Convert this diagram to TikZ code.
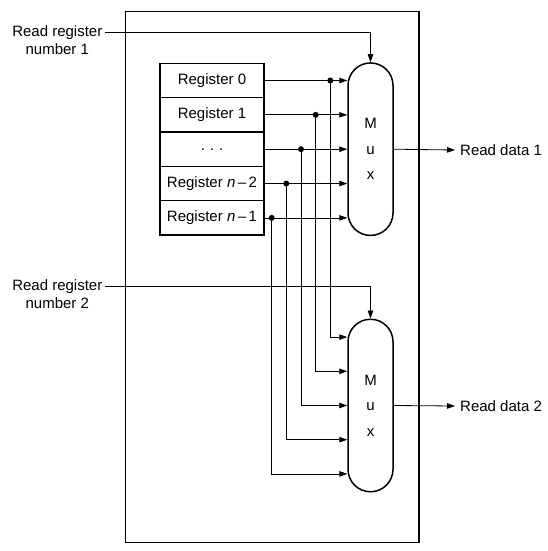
\documentclass[tikz,border=0pt]{standalone}
\usepackage{fontspec}
\setmainfont{Liberation Sans}
\usetikzlibrary{arrows.meta,calc}
\begin{document}
\begin{tikzpicture}[x=1pt,y=-1pt,
  txt/.style={font=\fontsize{15}{17}\selectfont, inner sep=2pt},
  frame/.style={draw, line width=1.5pt, minimum width=293.7pt, minimum height=531pt, inner sep=0pt},
  regbox/.style={draw, line width=1.5pt, minimum width=104pt, minimum height=34.35pt, inner sep=0pt, font=\fontsize{15}{17}\selectfont},
  muxbox/.style={draw, line width=1.5pt, minimum width=45pt, minimum height=172.5pt, inner sep=0pt, rounded corners=22.5pt, align=center, font=\fontsize{15}{25.5}\selectfont},
  arr/.style={line width=0.8pt, -{Triangle[length=8pt,width=5.5pt]}},
  wire/.style={line width=0.8pt},
  dot/.style={fill=black}
]
\useasboundingbox (0,0) rectangle (547,551);
\node[frame] (frame) at (272.2,277.2) {};
% registers
\node[regbox] (r0) at (212,80.5) {Register 0};
\node[regbox] (r1) at (212,114.85) {Register 1};
\node[regbox] (r2) at (212,149.2) {.\,\,.\,\,.};
\node[regbox] (r3) at (212,183.55) {Register \textit{n}\,–\,2};
\node[regbox] (r4) at (212,217.9) {Register \textit{n}\,–\,1};
% muxes
\node[muxbox] (m1) at (370.5,149.2) {M\\u\\x};
\node[muxbox] (m2) at (370.5,405.5) {M\\u\\x};
% labels
\node[txt, anchor=east] (rr1) at (104.5,32.3) {Read register};
\node[txt, anchor=north] (rn1) at (rr1.south) {number 1};
\node[txt, anchor=east] (rr2) at (104.5,286.3) {Read register};
\node[txt, anchor=north] (rn2) at (rr2.south) {number 2};
\node[txt, anchor=west] (rd1) at (458,150) {Read data 1};
\node[txt, anchor=west] (rd2) at (458,406) {Read data 2};
% columns
\coordinate (c0) at (330.3,0);
\coordinate (c1) at (315.7,0);
\coordinate (c2) at (301,0);
\coordinate (c3) at (286.3,0);
\coordinate (c4) at (271.7,0);
\foreach \i in {0,...,4} {
  \coordinate (d\i) at (r\i.east -| c\i);
}
% mux2 input rows
\coordinate (i0) at ($(m2.west)+(0,-68.4)$);
\coordinate (i1) at ($(m2.west)+(0,-34.2)$);
\coordinate (i2) at (m2.west);
\coordinate (i3) at ($(m2.west)+(0,34.2)$);
\coordinate (i4) at ($(m2.west)+(0,68.4)$);
% select lines
\draw[arr] (rr1.east) -| (m1.north);
\draw[arr] (rr2.east) -| (m2.north);
% register to mux1
\foreach \i in {0,...,4} {
  \draw[arr] (r\i.east) -- (r\i.east -| m1.west);
  \draw[arr] (d\i) |- (i\i);
  \fill[dot] (d\i) circle (3pt);
}
% outputs
\draw[arr] (m1.east) -- ([xshift=-3pt]rd1.west);
\draw[arr] (m2.east) -- ([xshift=-3pt]rd2.west);
\end{tikzpicture}
\end{document}
